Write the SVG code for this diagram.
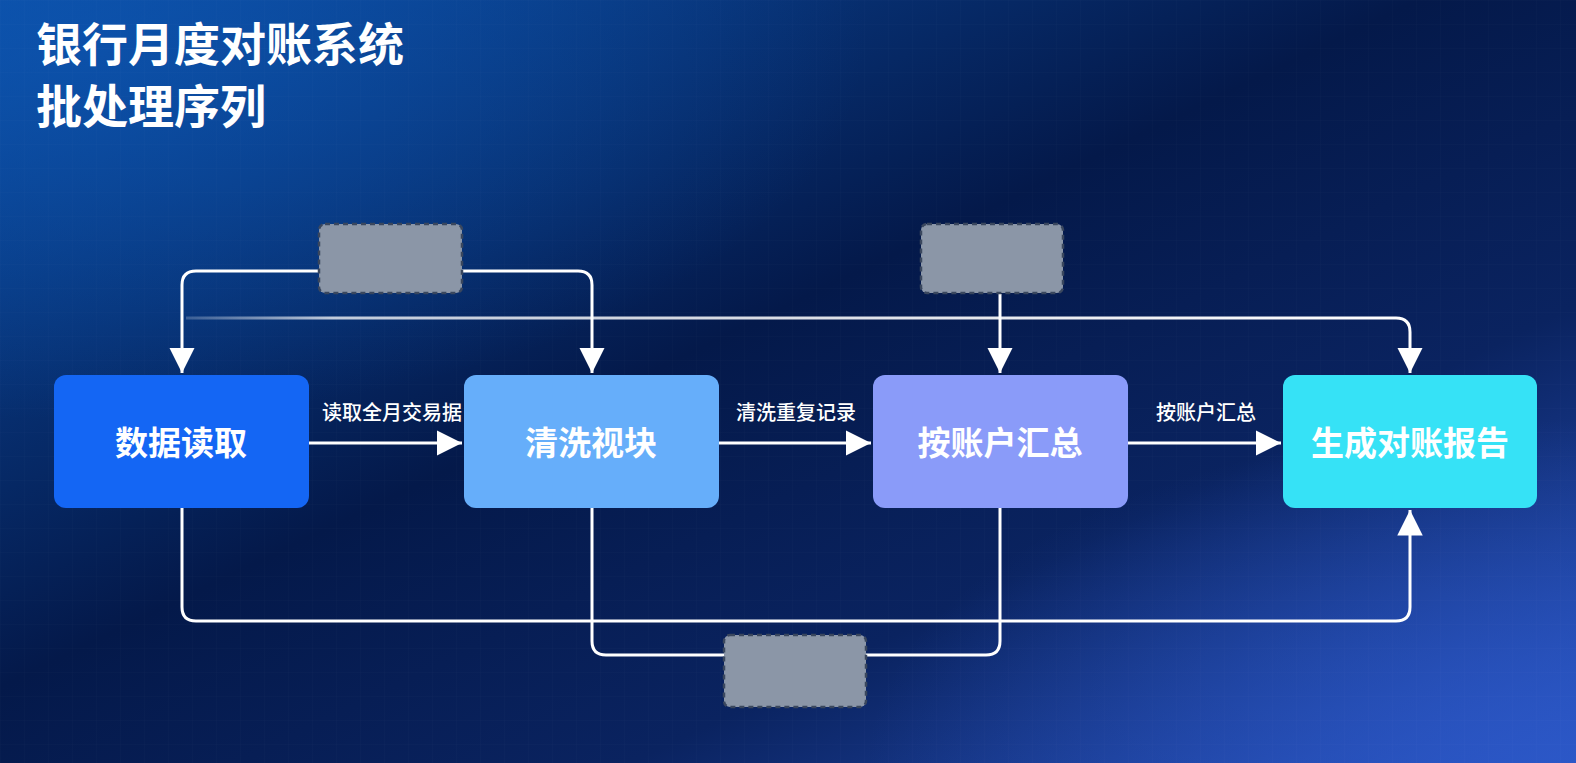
<svg xmlns="http://www.w3.org/2000/svg" width="1576" height="763" viewBox="0 0 1576 763">
  <defs>
    <linearGradient id="bg" x1="0" y1="0" x2="1" y2="1">
      <stop offset="0" stop-color="#0b4ea6"/>
      <stop offset="0.45" stop-color="#04194a"/>
      <stop offset="0.7" stop-color="#0a2360"/>
      <stop offset="1" stop-color="#2a55c4"/>
    </linearGradient>
    <radialGradient id="glowTL" cx="0.05" cy="0.05" r="0.5">
      <stop offset="0" stop-color="#0d55b0" stop-opacity="0.7"/>
      <stop offset="1" stop-color="#0d55b0" stop-opacity="0"/>
    </radialGradient>
    <radialGradient id="glowBR" cx="1" cy="1" r="0.45">
      <stop offset="0" stop-color="#2c58c8" stop-opacity="0.8"/>
      <stop offset="1" stop-color="#2c58c8" stop-opacity="0"/>
    </radialGradient>
    <linearGradient id="fadeLine" x1="0" y1="0" x2="1" y2="0">
      <stop offset="0" stop-color="#ffffff" stop-opacity="0.2"/>
      <stop offset="0.12" stop-color="#ffffff" stop-opacity="0.75"/>
      <stop offset="1" stop-color="#ffffff" stop-opacity="1"/>
    </linearGradient>
    <pattern id="grid" width="24" height="24" patternUnits="userSpaceOnUse">
      <path d="M24 0H0V24" fill="none" stroke="#ffffff" stroke-opacity="0.025" stroke-width="1"/>
    </pattern>
    <marker id="arrow" viewBox="0 0 10 10" refX="10" refY="5" markerWidth="8.5" markerHeight="8.5" markerUnits="strokeWidth" orient="auto">
      <path d="M0 0L10 5L0 10Z" fill="#ffffff"/>
    </marker>
    <style>
      .title { font-family: "Noto Sans CJK SC", "Noto Sans", sans-serif; font-weight: 700; font-size: 46px; fill: #ffffff; }
      .node-label { font-family: "Noto Sans CJK SC", "Noto Sans", sans-serif; font-weight: 700; font-size: 33px; fill: #ffffff; text-anchor: middle; dominant-baseline: central; }
      .edge-label { font-family: "Noto Sans CJK SC", "Noto Sans", sans-serif; font-weight: 500; font-size: 20px; fill: #ffffff; text-anchor: middle; }
      .edge { fill: none; stroke: #ffffff; stroke-width: 3; stroke-linejoin: round; }
      .gray { fill: #8b96a7; stroke: #3a475e; stroke-width: 2.5; stroke-dasharray: 5 4; }
    </style>
  </defs>

  <rect width="1576" height="763" fill="url(#bg)"/>
  <rect width="1576" height="763" fill="url(#glowTL)"/>
  <rect width="1576" height="763" fill="url(#glowBR)"/>
  <rect width="1576" height="763" fill="url(#grid)"/>

  <text class="title" x="36" y="61">银行月度对账系统</text>
  <text class="title" x="36" y="123">批处理序列</text>

  <g id="connectors">
    <path class="edge" d="M319 271 H196 Q182 271 182 285 V373" marker-end="url(#arrow)"/>
    <path class="edge" d="M462 271 H578 Q592 271 592 285 V373" marker-end="url(#arrow)"/>
    <path class="edge" d="M1000 294 V373" marker-end="url(#arrow)"/>
    <path d="M186 318 H1396 Q1410 318 1410 332 V373" fill="none" stroke="url(#fadeLine)" stroke-width="3" marker-end="url(#arrow)"/>
    <path class="edge" d="M309 443 H462" marker-end="url(#arrow)"/>
    <path class="edge" d="M719 443 H871" marker-end="url(#arrow)"/>
    <path class="edge" d="M1128 443 H1281" marker-end="url(#arrow)"/>
    <path class="edge" d="M182 508 V607 Q182 621 196 621 H1396 Q1410 621 1410 607 V510" marker-end="url(#arrow)"/>
    <path class="edge" d="M592 508 V641 Q592 655 606 655 H724"/>
    <path class="edge" d="M866 655 H986 Q1000 655 1000 641 V508"/>
    <text class="edge-label" x="392" y="420">读取全月交易据</text>
    <text class="edge-label" x="796" y="420">清洗重复记录</text>
    <text class="edge-label" x="1206" y="420">按账户汇总</text>
  </g>

  <g id="gray-top-left"><rect class="gray" x="319" y="224" width="143" height="69" rx="6"/></g>
  <g id="gray-top-right"><rect class="gray" x="921" y="224" width="142" height="69" rx="6"/></g>
  <g id="gray-bottom"><rect class="gray" x="724" y="635" width="142" height="72" rx="6"/></g>

  <g id="node-read">
    <rect x="54" y="375" width="255" height="133" rx="12" fill="#1466f4"/>
    <text class="node-label" x="181" y="441">数据读取</text>
  </g>
  <g id="node-clean">
    <rect x="464" y="375" width="255" height="133" rx="12" fill="#66aefa"/>
    <text class="node-label" x="591" y="441">清洗视块</text>
  </g>
  <g id="node-sum">
    <rect x="873" y="375" width="255" height="133" rx="12" fill="#8a9bf9"/>
    <text class="node-label" x="1000" y="441">按账户汇总</text>
  </g>
  <g id="node-report">
    <rect x="1283" y="375" width="254" height="133" rx="12" fill="#36e2f6"/>
    <text class="node-label" x="1410" y="441">生成对账报告</text>
  </g>
</svg>
